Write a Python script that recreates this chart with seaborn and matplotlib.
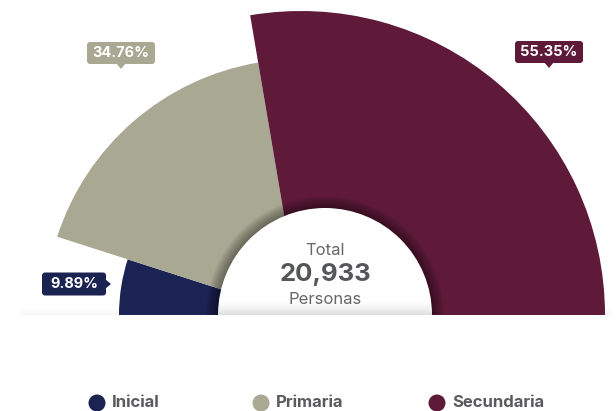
import numpy as np
import matplotlib.pyplot as plt
import seaborn as sns
from matplotlib.patches import Wedge, FancyBboxPatch, Polygon, Circle

# data
categories = ["Inicial", "Primaria", "Secundaria"]
shares = [9.89, 34.76, 55.35]
total = 20933
total_label = "Total"
unit_label = "Personas"
colors = ["#1b2352", "#a9a893", "#5f1a3a"]

sns.set_theme(style="white")
plt.rcParams["font.family"] = ["Inter", "DejaVu Sans"]

W, H = 616, 411
fig = plt.figure(figsize=(W / 100, H / 100), dpi=100)
ax = fig.add_axes([0, 0, 1, 1])
ax.set_xlim(0, W)
ax.set_ylim(0, H)
ax.axis("off")

# layout (pixel space, y up)
cx, cy = 301, H - 315
r_min, r_max = 182, 304
hx, hr = 325, 107

s = np.array(shares)
ratio = (s - s.min()) / (s.max() - s.min())
radii = np.sqrt(r_min ** 2 + ratio * (r_max ** 2 - r_min ** 2))
ends = 180 - np.cumsum(s) / s.sum() * 180
starts = np.r_[180, ends[:-1]]

# faint base shadow
grad = np.zeros((6, 1, 4))
grad[..., :3] = 0.5
grad[:, 0, 3] = np.linspace(0.0, 0.07, 6)
ax.imshow(grad, extent=(20, 612, cy, cy + 6), aspect="auto", zorder=0,
          origin="upper")

for st, en, r, c in zip(starts, ends, radii, colors):
    ax.add_patch(Wedge((cx, cy), r, en, st, facecolor=c, edgecolor="none", zorder=1))

# shadow ring around the hole
for k in range(12, 0, -1):
    ax.add_patch(Wedge((hx, cy), hr + k, 0, 180, facecolor="black",
                       edgecolor="none", alpha=0.035, zorder=2))
hole = Wedge((hx, cy), hr, 0, 180, facecolor="white", edgecolor="none", zorder=3)
ax.add_patch(hole)
g2 = np.zeros((16, 1, 4))
g2[..., :3] = 0.55
g2[:, 0, 3] = np.linspace(0.0, 0.45, 16) ** 1.6
im = ax.imshow(g2, extent=(hx - hr, hx + hr, cy, cy + 16), aspect="auto",
               zorder=4, origin="upper")
im.set_clip_path(hole)

ax.text(hx, H - 250, total_label, ha="center", va="center", fontsize=12,
        color="#666666", zorder=5)
ax.text(hx, H - 275, f"{total:,}", ha="center", va="center", fontsize=18.5,
        fontweight="bold", color="#55565a", zorder=5)
ax.text(hx, H - 300, unit_label, ha="center", va="center", fontsize=12,
        color="#666666", zorder=5)


def tag(x, y, w, h, text, color, pointer):
    y = H - y
    ax.add_patch(FancyBboxPatch((x - w / 2, y - h / 2), w, h,
                                boxstyle="round,pad=0,rounding_size=3",
                                facecolor=color, edgecolor="none", zorder=6))
    if pointer == "down":
        tri = [(x - 5, y - h / 2 + 1), (x + 5, y - h / 2 + 1), (x, y - h / 2 - 5)]
    else:
        tri = [(x + w / 2 - 1, y + 5), (x + w / 2 - 1, y - 5), (x + w / 2 + 5, y)]
    ax.add_patch(Polygon(tri, closed=True, facecolor=color, edgecolor="none", zorder=6))
    ax.text(x, y, text, ha="center", va="center", fontsize=10.5, fontweight="bold",
            color="white", zorder=7)


tag_pos = [(74, 284, 64, 23, "right"), (121, 53, 68, 22, "down"), (549, 52, 68, 22, "down")]
for (x, y, w, h, p), v, c in zip(tag_pos, shares, colors):
    tag(x, y, w, h, f"{v:.2f}%", c, p)

# legend
leg_x = [97, 261, 437]
for x, name, c in zip(leg_x, categories, colors):
    ax.add_patch(Circle((x, H - 403), 8.5, facecolor=c, edgecolor="none"))
    ax.text(x + 15, H - 402, name, ha="left", va="center", fontsize=12,
            fontweight="bold", color="#5b5b5e")

fig.savefig("out.png", dpi=100)
